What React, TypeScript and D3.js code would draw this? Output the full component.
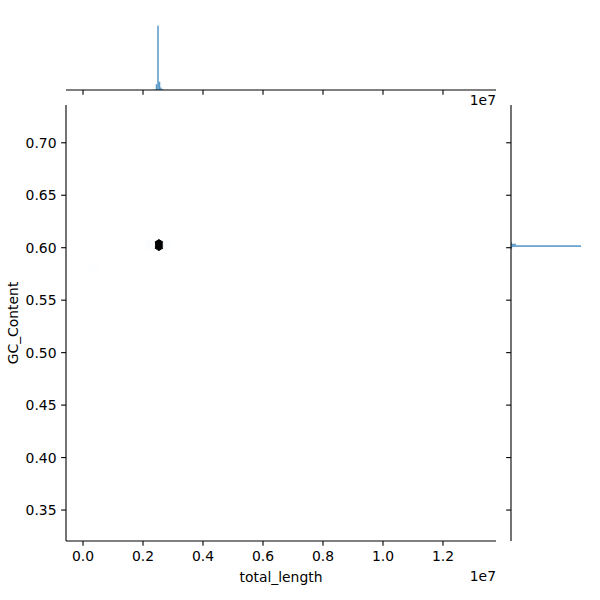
import React from "react";
import * as d3 from "d3";

// ---- data ----
const xTicks = [0, 0.2e7, 0.4e7, 0.6e7, 0.8e7, 1.0e7, 1.2e7];
const xTickLabels = ["0.0", "0.2", "0.4", "0.6", "0.8", "1.0", "1.2"];
const yTicks = [0.35, 0.4, 0.45, 0.5, 0.55, 0.6, 0.65, 0.7];
const yTickLabels = ["0.35", "0.40", "0.45", "0.50", "0.55", "0.60", "0.65", "0.70"];

const hexX = [2.53e6, 2.24e6, 2.82e6, 0.33e6];
const hexY = [0.6025, 0.6025, 0.6025, 0.5806];
const hexCounts = [900, 8, 6, 5];

const topBinStart = [2.375e6, 2.425e6, 2.475e6, 2.525e6, 2.575e6, 2.625e6];
const topBinCounts = [1, 14, 157, 20, 6, 2];
const topBinWidth = 0.05e6;

const rightBinStart = [0.5978, 0.5993, 0.6008, 0.6023, 0.6038];
const rightBinCounts = [1, 3, 171, 12, 2];
const rightBinWidth = 0.0015;

const FONT = "'DejaVu Sans', sans-serif";
const FS = 13.9;
const TICK = 4.86;

export default function App() {
  const x = d3.scaleLinear().domain([-0.0567e7, 1.3767e7]).range([66, 496]);
  const y = d3.scaleLinear().domain([0.3205, 0.736]).range([541, 105]);
  const topY = d3.scaleLinear().domain([0, 210]).range([90, 4]);
  const rightX = d3.scaleLinear().domain([0, 210]).range([511, 597]);

  const base = d3.hsl("#1f77b4");
  const stops = d3.range(12).map((i) => d3.hsl(base.h, base.s, 1 - i / 11).formatHex());
  const cmap = d3.piecewise(d3.interpolateRgb, stops);
  const norm = d3.scaleLinear().domain([1, d3.max(hexCounts) as number]).range([0, 1]).clamp(true);

  const sx = 0.29e6;
  const sy = 0.0158;
  const hexOffsets: [number, number][] = [
    [0.5, -0.5], [0.5, 0.5], [0, 1], [-0.5, 0.5], [-0.5, -0.5], [0, -1],
  ];
  const hexPath = (cx: number, cy: number) =>
    "M" +
    hexOffsets
      .map(([dx, dy]) => `${x(cx + dx * sx)},${y(cy + (dy * sy) / 3)}`)
      .join("L") +
    "Z";

  const histFill = "rgba(31,119,180,0.75)";

  return (
    <svg
      width={600}
      height={600}
      style={{ position: "fixed", left: 0, top: 0, background: "#fff" }}
      fontFamily={FONT}
    >
      <rect x={0} y={0} width={600} height={600} fill="#fff" />

      {/* hexbin */}
      {hexX.map((hx, i) => {
        const c = cmap(norm(hexCounts[i]));
        return <path key={i} d={hexPath(hx, hexY[i])} fill={c} stroke={c} strokeWidth={1} />;
      })}

      {/* top marginal histogram */}
      {topBinStart.map((b, i) => (
        <rect
          key={i}
          x={x(b)}
          width={x(b + topBinWidth) - x(b)}
          y={topY(topBinCounts[i])}
          height={topY(0) - topY(topBinCounts[i])}
          fill={histFill}
        />
      ))}

      {/* right marginal histogram */}
      {rightBinStart.map((b, i) => (
        <rect
          key={i}
          x={rightX(0)}
          width={rightX(rightBinCounts[i]) - rightX(0)}
          y={y(b + rightBinWidth)}
          height={y(b) - y(b + rightBinWidth)}
          fill={histFill}
        />
      ))}

      {/* main spines */}
      <line x1={66} x2={66} y1={105} y2={541} stroke="#000" strokeWidth={1.1} />
      <line x1={66} x2={496} y1={541} y2={541} stroke="#000" strokeWidth={1.1} />

      {/* main x ticks */}
      {xTicks.map((t, i) => (
        <g key={i}>
          <line x1={x(t)} x2={x(t)} y1={541} y2={541 + TICK} stroke="#000" strokeWidth={1.1} />
          <text x={x(t)} y={561} fontSize={FS} textAnchor="middle" fill="#000">
            {xTickLabels[i]}
          </text>
        </g>
      ))}
      <text x={496} y={581} fontSize={FS} textAnchor="end" fill="#000">1e7</text>
      <text x={281} y={582} fontSize={FS} textAnchor="middle" fill="#000">total_length</text>

      {/* main y ticks */}
      {yTicks.map((t, i) => (
        <g key={i}>
          <line x1={66 - TICK} x2={66} y1={y(t)} y2={y(t)} stroke="#000" strokeWidth={1.1} />
          <text x={56.5} y={y(t) + 5} fontSize={FS} textAnchor="end" fill="#000">
            {yTickLabels[i]}
          </text>
        </g>
      ))}
      <text
        transform="translate(18,323) rotate(-90)"
        fontSize={FS}
        textAnchor="middle"
        fill="#000"
      >
        GC_Content
      </text>

      {/* top marginal axis */}
      <line x1={66} x2={496} y1={90} y2={90} stroke="#000" strokeWidth={1.1} />
      {xTicks.map((t, i) => (
        <line key={i} x1={x(t)} x2={x(t)} y1={90} y2={90 + TICK} stroke="#000" strokeWidth={1.1} />
      ))}
      <text x={496} y={105} fontSize={FS} textAnchor="end" fill="#000">1e7</text>

      {/* right marginal axis */}
      <line x1={511} x2={511} y1={105} y2={541} stroke="#000" strokeWidth={1.1} />
      {yTicks.map((t, i) => (
        <line key={i} x1={511 - TICK} x2={511} y1={y(t)} y2={y(t)} stroke="#000" strokeWidth={1.1} />
      ))}
    </svg>
  );
}
